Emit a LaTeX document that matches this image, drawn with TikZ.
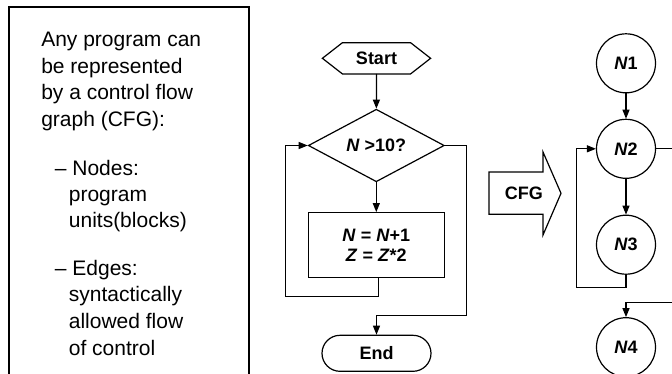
\documentclass[tikz,border=0pt]{standalone}
\usepackage{fontspec}
\setmainfont{Liberation Sans}
\usetikzlibrary{arrows.meta,shapes.geometric}

\begin{document}
\begin{tikzpicture}[
  x=1pt, y=-1pt, line width=1.2pt,
  >={Triangle[length=9pt,width=7pt]},
  desc/.style={font=\fontsize{21}{26}\selectfont,anchor=base west,inner sep=0pt},
  lbl/.style={font=\fontsize{18}{20}\selectfont\bfseries,align=center,inner sep=0pt},
  term/.style={lbl,draw,rounded corners=18pt,minimum width=109pt,minimum height=36pt},
  test/.style={lbl,draw,diamond,minimum width=136pt,minimum height=63pt},
  proc/.style={lbl,draw,minimum width=136pt,minimum height=65pt},
  cnode/.style={lbl,draw,circle,minimum size=59pt},
]
\useasboundingbox (0,0) rectangle (672,373);
\clip (0,0) rectangle (672,373);

% ---- description ----
\draw (9,7) rectangle (249,390);
\foreach \t/\x/\y [count=\k] in {Any program can/40.7/46.7, be represented/40.7/73.2,
    by a control flow/40.7/99.7, graph (CFG):/40.7/126.2,
    -- Nodes:/54.3/175, program/68.3/201, units(blocks)/68.3/227,
    -- Edges:/54.3/275, syntactically/68.3/301.5, allowed flow/68.3/328, of control/68.3/355}
  \node[desc] (d\k) at (\x,\y) {\t};

% ---- flowchart ----
\node[lbl,minimum width=107pt,minimum height=30pt] (start) at (376.5,58.3) {Start};
\draw (start.west) -- ([xshift=20pt]start.north west) -- ([xshift=-20pt]start.north east)
  -- (start.east) -- ([xshift=-20pt]start.south east) -- ([xshift=20pt]start.south west) -- cycle;
\node[test] (dec) at (376.3,145.5) {\textit{N} >10?};
\node[proc] (body) at (376.3,245.2) {\textit{N} = \textit{N}+1\\\textit{Z} = \textit{Z}*2};
\node[term] (end) at (376.5,353.3) {End};

\draw[->] (start) -- (dec);
\draw[->] (dec) -- (body);
\coordinate (lp) at (285.5,296.5);
\coordinate (rp) at (466.7,315.5);
\draw[->] ([xshift=2.5pt]body.south) |- (lp) |- (dec.west);
\draw[->] (dec.east) -| (rp) -| (end.north);

% ---- CFG arrow ----
\node[lbl] (cfg) at (523.8,193.3) {CFG};
\draw (489,172) -- (543,172) -- (543,152) -- (561,193.3) -- (543,235) -- (543,214.3) -- (489,214.3) -- cycle;

% ---- graph ----
\foreach \i/\y in {1/63.3,2/148.8,3/244.7,4/347.2}
  \node[cnode] (n\i) at (626,\y) {\textit{N}\i};
\draw[->] (n1) -- (n2);
\draw[->] (n2) -- (n3);
\coordinate (cl) at (576.3,287.7);
\coordinate (cr) at (690,302.3);
\draw[->] (n3.south) |- (cl) |- (n2.west);
\draw[->] (n2.east) -| (cr) -| (n4.north);
\end{tikzpicture}
\end{document}
